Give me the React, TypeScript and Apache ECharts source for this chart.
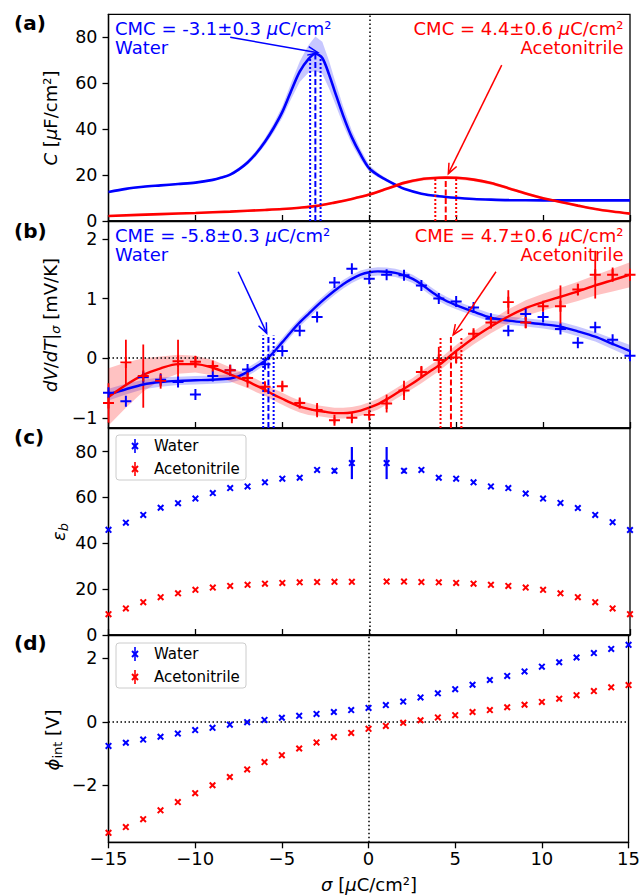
import React, { useEffect, useRef } from "react";
import * as echarts from "echarts";

const FONT = "DejaVu Sans";
const BLUE = "#0000ff";
const RED = "#ff0000";
const BLUE_BAND = "rgba(0,0,255,0.22)";
const RED_BAND = "rgba(255,0,0,0.24)";

// ticks
const xTicks = [-15, -10, -5, 0, 5, 10, 15];
const aTicks = [0, 20, 40, 60, 80];
const bTicks = [-1, 0, 1, 2];
const cTicks = [0, 20, 40, 60, 80];
const dTicks = [-2, 0, 2];

// legend entries
const legendNames = ["Water", "Acetonitrile"];
const legendColors = [BLUE, RED];

// (a) capacitance fits
const cWaterX = [-15, -14, -13, -12, -11, -10, -9, -8.5, -8, -7.5, -7, -6.5, -6, -5.5, -5, -4.5, -4, -3.5, -3.1, -2.7, -2.3, -2, -1.5, -1, -0.5, 0, 0.5, 1, 1.5, 2, 3, 4, 5, 6, 7, 8, 10, 12, 15];
const cWaterY = [12.6, 14.0, 14.9, 15.5, 16.1, 16.7, 17.9, 18.9, 20.2, 22.5, 25.5, 29.5, 34.5, 40.5, 47.5, 56.5, 65.0, 70.5, 72.8, 71.0, 63.5, 56.8, 45.9, 36.4, 29.0, 22.9, 20.0, 17.8, 15.8, 14.0, 11.9, 10.8, 10.1, 9.6, 9.3, 9.1, 9.0, 9.0, 9.0];
const cWaterHalf = [0.4, 0.4, 0.4, 0.4, 0.4, 0.4, 0.5, 0.5, 0.6, 0.8, 1.0, 1.2, 1.5, 2.0, 2.5, 3.5, 4.5, 6.0, 7.5, 7.0, 6.0, 5.0, 4.0, 3.0, 2.2, 1.5, 1.0, 0.7, 0.5, 0.4, 0.4, 0.4, 0.4, 0.4, 0.4, 0.4, 0.4, 0.4, 0.4];
const cAcnX = [-15, -12, -10, -8, -6, -5, -4, -3, -2, -1, 0, 1, 2, 3, 4, 4.4, 5, 6, 7, 8, 9, 10, 11, 12, 13, 14, 15];
const cAcnY = [2.2, 3.0, 3.5, 4.1, 4.8, 5.2, 5.8, 6.6, 8.0, 9.6, 11.5, 14.0, 16.6, 18.2, 18.8, 18.9, 18.8, 18.0, 16.5, 14.3, 12.0, 9.9, 8.3, 6.7, 5.2, 4.1, 3.2];
const cAcnHalf = [0.4, 0.4, 0.4, 0.4, 0.4, 0.4, 0.4, 0.5, 0.5, 0.5, 0.6, 0.6, 0.7, 0.7, 0.7, 0.7, 0.7, 0.7, 0.7, 0.6, 0.6, 0.5, 0.5, 0.5, 0.4, 0.4, 0.4];
// CMC markers: [value, error, top of centre line, top of side lines]
const cmcWater = [-3.1, 0.3, 72.8, 70.5];
const cmcAcn = [4.4, 0.6, 18.9, 18.6];

// (b) dV/dT fits
const bFitX = [-15, -14, -13, -12, -11, -10, -9, -8, -7.5, -7, -6.5, -6, -5.5, -5, -4.5, -4, -3.5, -3, -2.5, -2, -1.5, -1, -0.5, 0, 0.5, 1, 1.5, 2, 2.5, 3, 3.5, 4, 4.5, 5, 6, 7, 8, 9, 10, 11, 12, 13, 14, 15];
const bWaterFit = [-0.61, -0.52, -0.44, -0.40, -0.38, -0.37, -0.36, -0.34, -0.30, -0.23, -0.14, -0.04, 0.10, 0.27, 0.44, 0.60, 0.74, 0.88, 1.01, 1.13, 1.24, 1.33, 1.40, 1.44, 1.455, 1.45, 1.43, 1.39, 1.33, 1.24, 1.13, 1.03, 0.95, 0.89, 0.78, 0.68, 0.63, 0.60, 0.57, 0.53, 0.45, 0.36, 0.24, 0.12];
const bWaterHalf = [0.10, 0.09, 0.08, 0.08, 0.07, 0.07, 0.07, 0.07, 0.07, 0.07, 0.07, 0.07, 0.07, 0.07, 0.07, 0.07, 0.07, 0.07, 0.07, 0.07, 0.07, 0.07, 0.07, 0.07, 0.07, 0.07, 0.07, 0.07, 0.07, 0.07, 0.07, 0.07, 0.07, 0.07, 0.07, 0.07, 0.07, 0.07, 0.07, 0.08, 0.08, 0.08, 0.09, 0.10];
const bAcnFit = [-0.65, -0.45, -0.28, -0.17, -0.10, -0.10, -0.16, -0.27, -0.33, -0.39, -0.46, -0.53, -0.61, -0.68, -0.75, -0.81, -0.85, -0.88, -0.90, -0.92, -0.92, -0.91, -0.88, -0.83, -0.77, -0.69, -0.60, -0.51, -0.42, -0.32, -0.22, -0.12, 0.00, 0.12, 0.34, 0.53, 0.70, 0.84, 0.94, 1.03, 1.12, 1.22, 1.31, 1.40];
const bAcnHalf = [0.48, 0.38, 0.28, 0.20, 0.16, 0.14, 0.13, 0.12, 0.115, 0.11, 0.11, 0.10, 0.10, 0.10, 0.10, 0.10, 0.10, 0.09, 0.09, 0.09, 0.09, 0.09, 0.09, 0.09, 0.09, 0.09, 0.09, 0.09, 0.09, 0.10, 0.10, 0.10, 0.10, 0.10, 0.11, 0.11, 0.12, 0.13, 0.14, 0.15, 0.16, 0.17, 0.19, 0.21];
// (b) measured points
const bPtsX = [-15, -14, -13, -12, -11, -10, -9, -8, -7, -6, -5, -4, -3, -2, -1, 0, 1, 2, 3, 4, 5, 6, 7, 8, 9, 10, 11, 12, 13, 14, 15];
const bWaterPts = [-0.58, -0.72, -0.32, -0.36, -0.40, -0.61, -0.30, -0.20, -0.19, -0.10, 0.12, 0.46, 0.69, 1.27, 1.50, 1.33, 1.40, 1.39, 1.22, 1.00, 0.95, 0.85, 0.66, 0.46, 0.74, 0.69, 0.49, 0.26, 0.52, 0.31, 0.04];
const bAcnPts = [-0.75, -0.07, -0.30, -0.38, -0.05, -0.06, -0.13, -0.20, -0.33, -0.48, -0.47, -0.75, -0.87, -1.04, -1.00, -0.95, -0.76, -0.54, -0.23, -0.03, 0.01, 0.41, 0.60, 0.94, 0.60, 0.87, 0.87, 1.15, 1.40, 1.40, 1.40];
const bAcnErr = [0.33, 0.38, 0.53, 0.13, 0.36, 0.10, 0.06, 0.06, 0.16, 0.08, 0.06, 0.06, 0.12, 0.05, 0.05, 0.06, 0.15, 0.16, 0.10, 0.22, 0.10, 0.06, 0.10, 0.20, 0.10, 0.08, 0.35, 0.10, 0.40, 0.12, 0.10];
// CME markers: [value, error, top of lines]
const cmeWater = [-5.8, 0.3, 0.38];
const cmeAcn = [4.7, 0.6, 0.37];

// (c) epsilon_b
const epsX = [-15, -14, -13, -12, -11, -10, -9, -8, -7, -6, -5, -4, -3, -2, -1, 1, 2, 3, 4, 5, 6, 7, 8, 9, 10, 11, 12, 13, 14, 15];
const epsWater = [45.9, 49.0, 52.4, 55.5, 57.5, 59.5, 61.9, 64.1, 64.8, 66.6, 68.2, 68.6, 72.0, 71.6, 75.0, 75.0, 71.6, 72.0, 68.6, 68.2, 66.6, 64.8, 64.1, 61.7, 59.5, 57.6, 55.4, 52.4, 49.2, 45.8];
const epsWaterErr = [0.5, 0.5, 0.5, 0.5, 0.5, 0.5, 0.5, 0.5, 0.5, 0.5, 0.5, 0.5, 0.5, 1.0, 7.0, 7.0, 1.0, 0.5, 0.5, 0.5, 0.5, 0.5, 0.5, 0.5, 0.5, 0.5, 0.5, 0.5, 0.5, 0.5];
const epsAcn = [9.1, 11.6, 14.3, 16.5, 18.2, 19.7, 20.7, 21.4, 21.9, 22.4, 22.7, 23.0, 23.1, 23.2, 23.2, 23.3, 23.3, 23.1, 23.0, 22.7, 22.4, 21.9, 21.4, 20.7, 19.7, 18.2, 16.5, 14.3, 11.6, 9.1];

// (d) phi_int
const phiX = [-15, -14, -13, -12, -11, -10, -9, -8, -7, -6, -5, -4, -3, -2, -1, 0, 1, 2, 3, 4, 5, 6, 7, 8, 9, 10, 11, 12, 13, 14, 15];
const phiWater = [-0.76, -0.66, -0.56, -0.47, -0.37, -0.26, -0.19, -0.09, -0.01, 0.06, 0.13, 0.19, 0.25, 0.31, 0.37, 0.44, 0.53, 0.64, 0.77, 0.90, 1.03, 1.17, 1.32, 1.45, 1.59, 1.74, 1.88, 2.03, 2.17, 2.30, 2.43];
const phiAcn = [-3.50, -3.32, -3.07, -2.79, -2.53, -2.25, -2.00, -1.74, -1.50, -1.27, -1.05, -0.84, -0.65, -0.48, -0.35, -0.22, -0.13, -0.03, 0.05, 0.14, 0.21, 0.31, 0.37, 0.46, 0.54, 0.63, 0.73, 0.84, 0.97, 1.09, 1.16];

// annotation arrows: [x0, y0, x1, y1] in data units
const aArrowWater = [-8.0, 80.0, -2.95, 73.3];
const aArrowAcn = [7.62, 67.9, 4.55, 20.6];
const bArrowWater = [-7.54, 1.45, -5.9, 0.42];
const bArrowAcn = [7.29, 1.45, 4.83, 0.39];

// axis extents
const yRanges = [
  [0, 90],
  [-1.17, 2.3],
  [0, 90.3],
  [-3.8, 2.74],
];
const yTickSets = [aTicks, bTicks, cTicks, dTicks];

const gridTops = [14.3, 221, 428, 635];
const gridHeights = [206.7, 207, 207, 207.3];

const PLUS = "path://M-0.18,-1 L0.18,-1 L0.18,-0.18 L1,-0.18 L1,0.18 L0.18,0.18 L0.18,1 L-0.18,1 L-0.18,0.18 L-1,0.18 L-1,-0.18 L-0.18,-0.18 Z";
const CROSS = "path://M-1.25,-0.75 L-0.75,-1.25 L1.25,0.75 L0.75,1.25 Z M-1.25,0.75 L0.75,-1.25 L1.25,-0.75 L-0.75,1.25 Z";

const minus = (v: number) => String(v).replace("-", "\u2212");

function band(xs: number[], ys: number[], half: number[], color: string, gi: number) {
  const data = xs.map((x, i) => [x, ys[i] - half[i], ys[i] + half[i]]);
  return {
    type: "custom",
    xAxisIndex: gi,
    yAxisIndex: gi,
    silent: true,
    z: 1,
    data,
    encode: { x: 0, y: [1, 2] },
    renderItem: (params: any, api: any) => {
      if (params.dataIndex !== 0) return null;
      const up = data.map((d) => api.coord([d[0], d[2]]));
      const lo = data.map((d) => api.coord([d[0], d[1]]));
      return {
        type: "polygon",
        shape: { points: up.concat(lo.slice().reverse()) },
        style: { fill: color, stroke: null },
      };
    },
  };
}

function fitLine(name: string, xs: number[], ys: number[], color: string, gi: number, width: number, extra: any = {}) {
  return {
    name,
    type: "line",
    xAxisIndex: gi,
    yAxisIndex: gi,
    data: xs.map((x, i) => [x, ys[i]]),
    showSymbol: false,
    symbol: "none",
    smooth: 0.3,
    lineStyle: { color, width },
    z: 3,
    silent: true,
    ...extra,
  };
}

function vline(x: number, y0: number, y1: number, color: string, dash: any, gi: number) {
  return {
    type: "line",
    xAxisIndex: gi,
    yAxisIndex: gi,
    data: [
      [x, y0],
      [x, y1],
    ],
    showSymbol: false,
    symbol: "none",
    lineStyle: { color, width: 2, type: dash },
    silent: true,
    z: 4,
  };
}

function errBars(xs: number[], ys: number[], errs: number[], color: string, gi: number, width: number) {
  return {
    type: "custom",
    xAxisIndex: gi,
    yAxisIndex: gi,
    silent: true,
    z: 3,
    data: xs.map((x, i) => [x, ys[i] - errs[i], ys[i] + errs[i]]),
    encode: { x: 0, y: [1, 2] },
    renderItem: (params: any, api: any) => {
      const a = api.coord([api.value(0), api.value(1)]);
      const b = api.coord([api.value(0), api.value(2)]);
      return {
        type: "line",
        shape: { x1: a[0], y1: a[1], x2: b[0], y2: b[1] },
        style: { stroke: color, lineWidth: width },
      };
    },
  };
}

function arrow(seg: number[], color: string, gi: number) {
  return {
    type: "custom",
    xAxisIndex: gi,
    yAxisIndex: gi,
    silent: true,
    z: 6,
    data: [seg],
    encode: { x: [0, 2], y: [1, 3] },
    renderItem: (params: any, api: any) => {
      const p = api.coord([api.value(0), api.value(1)]);
      const q = api.coord([api.value(2), api.value(3)]);
      const ang = Math.atan2(q[1] - p[1], q[0] - p[0]);
      const L = 11;
      const w = 0.4;
      const h1 = [q[0] - L * Math.cos(ang - w), q[1] - L * Math.sin(ang - w)];
      const h2 = [q[0] - L * Math.cos(ang + w), q[1] - L * Math.sin(ang + w)];
      return {
        type: "group",
        children: [
          { type: "line", shape: { x1: p[0], y1: p[1], x2: q[0], y2: q[1] }, style: { stroke: color, lineWidth: 1.5 } },
          { type: "polyline", shape: { points: [h1, q, h2] }, style: { stroke: color, lineWidth: 1.5, fill: null } },
        ],
      };
    },
  };
}

function scatter(name: string, xs: number[], ys: number[], color: string, gi: number, symbol: string, size: number, extra: any = {}) {
  return {
    name,
    type: "scatter",
    xAxisIndex: gi,
    yAxisIndex: gi,
    data: xs.map((x, i) => [x, ys[i]]),
    symbol,
    symbolSize: size,
    itemStyle: { color, opacity: 1 },
    z: 5,
    silent: true,
    ...extra,
  };
}

const zeroLines = (withY: boolean) => ({
  markLine: {
    silent: true,
    symbol: ["none", "none"],
    label: { show: false },
    animation: false,
    lineStyle: { color: "#000", width: 1.5, type: [1.5, 2.5] },
    emphasis: { disabled: true },
    data: withY ? [{ xAxis: 0 }, { yAxis: 0 }] : [{ xAxis: 0 }],
  },
});

const dash = [6, 2.5];
const dot = [2, 2];

// hand-built legend box (matplotlib style)
function legendBox(top: number) {
  const children: any[] = [
    {
      type: "rect",
      shape: { x: 116, y: top, width: 130, height: 45, r: 3 },
      style: { fill: "rgba(255,255,255,0.8)", stroke: "#cccccc", lineWidth: 1 },
    },
  ];
  legendNames.forEach((name, k) => {
    const cy = top + 11 + 23 * k;
    const c = legendColors[k];
    children.push(
      { type: "line", shape: { x1: 135, y1: cy - 7, x2: 135, y2: cy + 7 }, style: { stroke: c, lineWidth: 1.6 } },
      { type: "line", shape: { x1: 132, y1: cy - 3, x2: 138, y2: cy + 3 }, style: { stroke: c, lineWidth: 2 } },
      { type: "line", shape: { x1: 132, y1: cy + 3, x2: 138, y2: cy - 3 }, style: { stroke: c, lineWidth: 2 } },
      {
        type: "text",
        x: 154,
        y: cy,
        style: {
          text: name,
          fill: "#000",
          fontSize: 15,
          fontFamily: FONT,
          align: "left",
          verticalAlign: "middle",
          textAlign: "left",
          textVerticalAlign: "middle",
        },
      }
    );
  });
  return { type: "group", silent: true, z: 90, children };
}

function buildOption() {
  const grids = gridTops.map((t, i) => ({
    left: 108.5,
    width: 521.5,
    top: t,
    height: gridHeights[i],
    show: true,
    borderColor: "#000",
    borderWidth: 1.3,
    backgroundColor: "transparent",
    containLabel: false,
  }));

  const xAxes = gridTops.map((_, i) => ({
    type: "value",
    gridIndex: i,
    min: -15,
    max: 15,
    splitLine: { show: false },
    axisLine: { show: true, onZero: false, lineStyle: { color: "#000", width: 1.3 } },
    axisTick: { show: true, inside: i < 3, length: 6, customValues: xTicks, lineStyle: { color: "#000", width: 1.3 } },
    axisLabel: {
      show: i === 3,
      customValues: xTicks,
      formatter: minus,
      fontSize: 18,
      color: "#000",
      fontFamily: FONT,
      margin: 7,
    },
  }));

  const yAxes = gridTops.map((_, i) => ({
    type: "value",
    gridIndex: i,
    min: yRanges[i][0],
    max: yRanges[i][1],
    splitLine: { show: false },
    axisLine: { show: true, onZero: false, lineStyle: { color: "#000", width: 1.3 } },
    axisTick: { show: true, inside: false, length: 6, customValues: yTickSets[i], lineStyle: { color: "#000", width: 1.3 } },
    axisLabel: {
      customValues: yTickSets[i],
      formatter: minus,
      fontSize: 17.5,
      color: "#000",
      fontFamily: FONT,
      margin: 11,
    },
  }));

  const bBottom = yRanges[1][0];

  const series: any[] = [
    // (a)
    band(cWaterX, cWaterY, cWaterHalf, BLUE_BAND, 0),
    band(cAcnX, cAcnY, cAcnHalf, RED_BAND, 0),
    fitLine("C water", cWaterX, cWaterY, BLUE, 0, 2.6, zeroLines(false)),
    fitLine("C acn", cAcnX, cAcnY, RED, 0, 2.6),
    vline(cmcWater[0], 0, cmcWater[2], BLUE, dash, 0),
    vline(cmcWater[0] - cmcWater[1], 0, cmcWater[3], BLUE, dot, 0),
    vline(cmcWater[0] + cmcWater[1], 0, cmcWater[3], BLUE, dot, 0),
    vline(cmcAcn[0], 0, cmcAcn[2], RED, dash, 0),
    vline(cmcAcn[0] - cmcAcn[1], 0, cmcAcn[3], RED, dot, 0),
    vline(cmcAcn[0] + cmcAcn[1], 0, cmcAcn[3], RED, dot, 0),
    arrow(aArrowWater, BLUE, 0),
    arrow(aArrowAcn, RED, 0),
    // (b)
    band(bFitX, bWaterFit, bWaterHalf, BLUE_BAND, 1),
    band(bFitX, bAcnFit, bAcnHalf, RED_BAND, 1),
    fitLine("dVdT water", bFitX, bWaterFit, BLUE, 1, 2.4, zeroLines(true)),
    fitLine("dVdT acn", bFitX, bAcnFit, RED, 1, 2.4),
    errBars(bPtsX, bAcnPts, bAcnErr, RED, 1, 1.8),
    scatter("pts water", bPtsX, bWaterPts, BLUE, 1, PLUS, 11),
    scatter("pts acn", bPtsX, bAcnPts, RED, 1, PLUS, 11),
    vline(cmeWater[0], bBottom, cmeWater[2], BLUE, dash, 1),
    vline(cmeWater[0] - cmeWater[1], bBottom, cmeWater[2], BLUE, dot, 1),
    vline(cmeWater[0] + cmeWater[1], bBottom, cmeWater[2], BLUE, dot, 1),
    vline(cmeAcn[0], bBottom, cmeAcn[2], RED, dash, 1),
    vline(cmeAcn[0] - cmeAcn[1], bBottom, cmeAcn[2], RED, dot, 1),
    vline(cmeAcn[0] + cmeAcn[1], bBottom, cmeAcn[2], RED, dot, 1),
    arrow(bArrowWater, BLUE, 1),
    arrow(bArrowAcn, RED, 1),
    // (c)
    errBars(epsX, epsWater, epsWaterErr, BLUE, 2, 2.2),
    scatter("Water", epsX, epsWater, BLUE, 2, CROSS, 7, zeroLines(false)),
    scatter("Acetonitrile", epsX, epsAcn, RED, 2, CROSS, 7),
    // (d)
    scatter("Water", phiX, phiWater, BLUE, 3, CROSS, 7, zeroLines(true)),
    scatter("Acetonitrile", phiX, phiAcn, RED, 3, CROSS, 7),
  ];

  const t = (text: string, x: number, y: number, color: string, align: string, extra: any = {}) => ({
    type: "text",
    x,
    y,
    silent: true,
    z: 100,
    style: {
      text,
      fill: color,
      fontSize: 18,
      fontFamily: FONT,
      align,
      textAlign: align,
      verticalAlign: "middle",
      textVerticalAlign: "middle",
      lineHeight: 24,
      rich: {
        i: { fontStyle: "italic", fontSize: 18, fontFamily: FONT, fill: color, lineHeight: 24 },
        s: { fontStyle: "italic", fontSize: 13, fontFamily: FONT, fill: color, lineHeight: 13, padding: [11, 0, 0, 0] },
        u: { fontSize: 13, fontFamily: FONT, fill: color, lineHeight: 13, padding: [11, 0, 0, 0] },
      },
      ...extra,
    },
  });

  const graphic: any[] = [
    // panel letters
    t("(a)", 14, 23, "#000", "left", { fontWeight: "bold", fontSize: 20 }),
    t("(b)", 14, 231, "#000", "left", { fontWeight: "bold", fontSize: 20 }),
    t("(c)", 14, 437, "#000", "left", { fontWeight: "bold", fontSize: 20 }),
    t("(d)", 14, 643, "#000", "left", { fontWeight: "bold", fontSize: 20 }),
    // annotations
    t("CMC = -3.1±0.3 {i|μ}C/cm²", 115, 28, BLUE, "left"),
    t("Water", 115, 47.5, BLUE, "left"),
    t("CMC = 4.4±0.6 {i|μ}C/cm²", 623.5, 28, RED, "right"),
    t("Acetonitrile", 623.5, 47.5, RED, "right"),
    t("CME = -5.8±0.3 {i|μ}C/cm²", 115, 235, BLUE, "left"),
    t("Water", 115, 254.5, BLUE, "left"),
    t("CME = 4.7±0.6 {i|μ}C/cm²", 623.5, 235, RED, "right"),
    t("Acetonitrile", 623.5, 254.5, RED, "right"),
    // axis names
    { ...t("{i|C} [{i|μ}F/cm²]", 50, 118, "#000", "center"), rotation: Math.PI / 2 },
    { ...t("{i|dV}/{i|dT}|{s|σ} [mV/K]", 50, 325, "#000", "center"), rotation: Math.PI / 2 },
    { ...t("{i|ε}{s|b}", 58, 532, "#000", "center"), rotation: Math.PI / 2 },
    { ...t("{i|ϕ}{u|int} [V]", 52, 740, "#000", "center"), rotation: Math.PI / 2 },
    t("{i|σ} [{i|μ}C/cm²]", 369, 884, "#000", "center"),
    // legends
    legendBox(435),
    legendBox(643),
  ];

  return {
    animation: false,
    backgroundColor: "#fff",
    textStyle: { fontFamily: FONT },
    tooltip: { show: false },
    grid: grids,
    xAxis: xAxes,
    yAxis: yAxes,
    series,
    graphic,
  };
}

export default function App() {
  const ref = useRef<HTMLDivElement>(null);
  useEffect(() => {
    document.body.style.margin = "0";
    const chart = echarts.init(ref.current as HTMLDivElement, null, { renderer: "svg" });
    chart.setOption(buildOption() as any);
    return () => chart.dispose();
  }, []);
  return <div ref={ref} style={{ width: 643, height: 895 }} />;
}
